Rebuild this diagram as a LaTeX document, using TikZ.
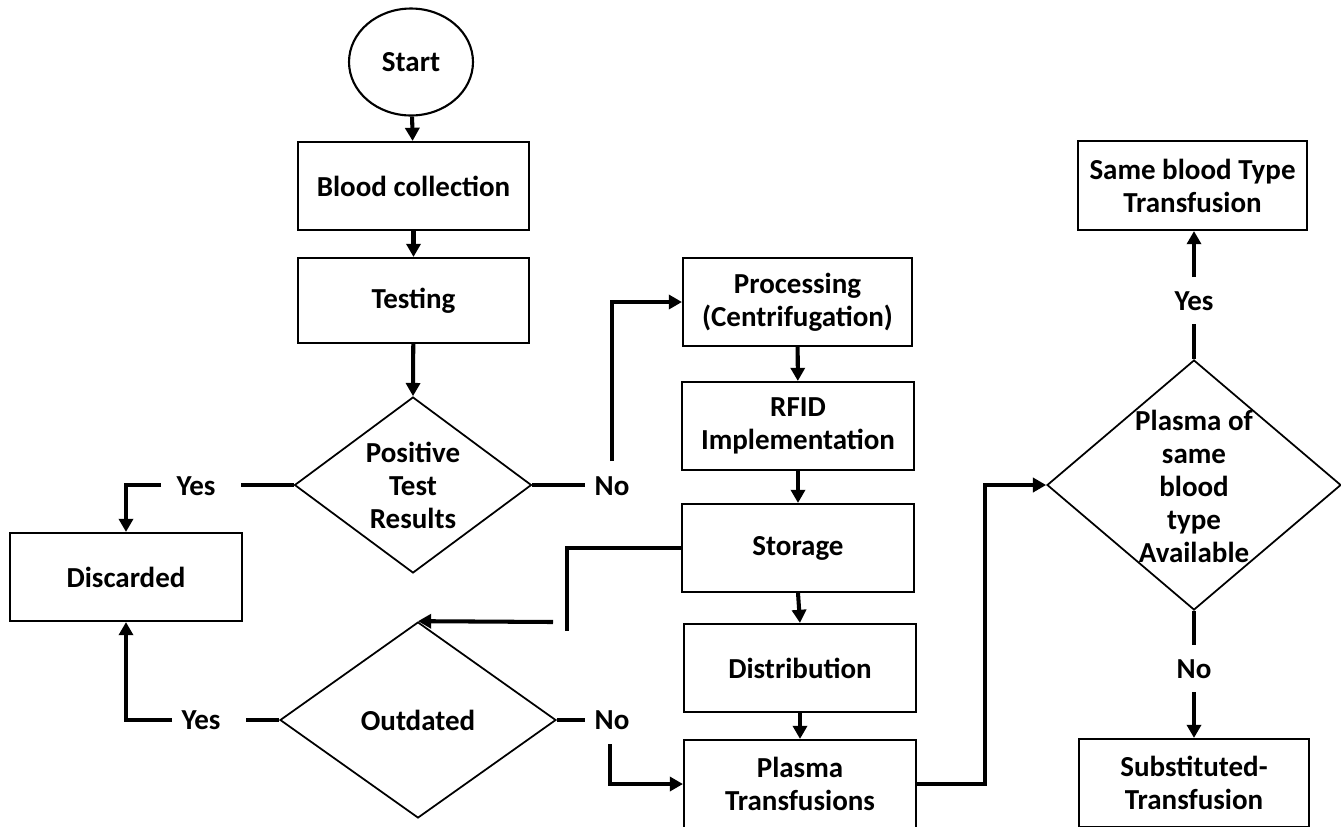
\documentclass[tikz,border=0pt]{standalone}
\usepackage{fontspec}
\setmainfont{Carlito}
\usetikzlibrary{shapes.geometric,arrows.meta}

\tikzset{
  lbl/.style={font=\bfseries\fontsize{16.5}{18.8}\selectfont, align=center, inner sep=0pt},
  procbox/.style={draw, line width=1.2pt, rectangle, lbl, minimum width=4.62cm, minimum height=1.76cm},
  decision/.style={draw, line width=1pt, diamond, inner sep=0pt},
  link/.style={line width=2.3pt},
  arr/.style={link, -{Triangle[length=7.5pt,width=8pt]}},
}

\begin{document}
\begin{tikzpicture}[x=0.02cm, y=-0.02cm]
  \useasboundingbox (0,0) rectangle (1341,826);
  \clip (0,0) rectangle (1341,826);

  % main column
  \node[draw, line width=1.2pt, ellipse, lbl, minimum width=2.48cm, minimum height=2.14cm] (start) at (411,62) {Start};
  \node[procbox] (blood) at (413.5,186) {Blood collection};
  \node[procbox, minimum height=1.70cm] (testing) at (413.5,300.5) {Testing};
  \node[decision, minimum width=4.74cm, minimum height=3.52cm] (positive) at (413,485) {};
  \node[lbl] (positivetxt) at (413,485) {Positive\\Test\\Results};
  \node[procbox, minimum width=4.64cm] (discarded) at (126,577) {Discarded};
  \node[decision, minimum width=5.52cm, minimum height=3.92cm] (outdated) at (418,720) {};
  \node[lbl] (outdatedtxt) at (418,720) {Outdated};

  % processing column
  \node[procbox, minimum width=4.58cm] (processing) at (797.5,302) {Processing\\(Centrifugation)};
  \node[procbox, minimum width=4.64cm] (rfid) at (798,426) {RFID\\Implementation};
  \node[procbox, minimum width=4.64cm] (storage) at (798,548) {Storage};
  \node[procbox, minimum width=4.64cm] (distribution) at (800,668) {Distribution};
  \node[procbox, minimum width=4.64cm] (plasma) at (800,784) {Plasma\\Transfusions};

  % availability check
  \node[decision, minimum width=5.88cm, minimum height=5.0cm] (avail) at (1194,485) {};
  \node[lbl, text depth=0pt] (availtxt) at (1194,486) {Plasma of\\same\\blood\\type\\Available};
  \node[procbox, minimum width=4.58cm, minimum height=1.78cm] (same) at (1192.5,185.5) {Same blood Type\\Transfusion};
  \node[procbox, minimum width=4.60cm] (subst) at (1194,783) {Substituted-\\Transfusion};

  % branch labels
  \node[lbl] (yes1) at (196,486) {Yes};
  \node[lbl] (no1) at (612,486) {No};
  \node[lbl] (yes2) at (201,720) {Yes};
  \node[lbl] (no2) at (612,720) {No};
  \node[lbl] (yes3) at (1194,301) {Yes};
  \node[lbl] (no3) at (1194,669) {No};

  % connector end points
  \coordinate (p1) at (241,485);
  \coordinate (p2) at (161,485);
  \coordinate (p3) at (585,485);
  \coordinate (p4) at (612,461);
  \coordinate (p5) at (567,631);
  \coordinate (p6) at (553,622);
  \coordinate (p7) at (246,720);
  \coordinate (p8) at (172,720);
  \coordinate (p9) at (585,720);
  \coordinate (p10) at (610,744);
  \coordinate (p11) at (985,485);
  \coordinate (p12) at (1194,324);
  \coordinate (p13) at (1194,277);
  \coordinate (p14) at (1194,645);
  \coordinate (p15) at (1194,692);

  % main flow
  \draw[arr] (start) -- (blood);
  \draw[arr] (blood) -- (testing);
  \draw[arr] (testing) -- (positive.north);

  % positive result -> discarded
  \draw[link] (positive.west) -- (p1);
  \draw[arr] (p2) -| (discarded.north);

  % negative result -> processing
  \draw[link] (positive.east) -- (p3);
  \draw[arr] (p4) |- (processing.west);

  \draw[arr] (processing) -- (rfid);
  \draw[arr] (rfid) -- (storage);
  \draw[arr] (storage.south) -- (distribution.north);
  \draw[arr] (distribution) -- (plasma);

  % storage -> outdated check
  \draw[link] (storage.west) -| (p5);
  \draw[arr] (p6) -- (outdated.north);

  % outdated -> discarded
  \draw[link] (outdated.west) -- (p7);
  \draw[arr] (p8) -| (discarded.south);

  % not outdated -> plasma transfusions
  \draw[link] (outdated.east) -- (p9);
  \draw[arr] (p10) |- (plasma.west);

  % plasma transfusions -> availability check
  \draw[arr] (plasma.east) -| (p11) -- (avail.west);

  % availability outcomes
  \draw[link] (avail.north) -- (p12);
  \draw[arr] (p13) -- (p13 |- same.south);
  \draw[link] (avail.south) -- (p14);
  \draw[arr] (p15) -- (subst.north);
\end{tikzpicture}
\end{document}
